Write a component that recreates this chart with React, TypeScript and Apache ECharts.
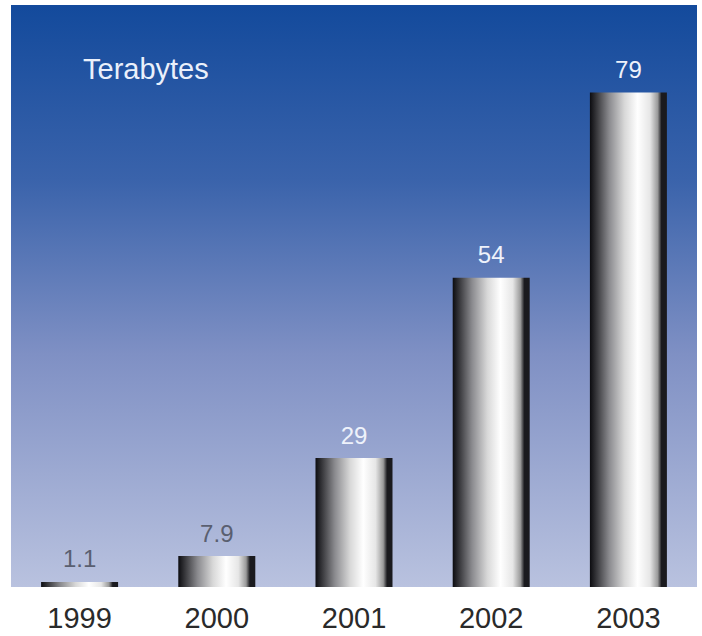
import React, { useEffect, useRef } from "react";
import * as echarts from "echarts";

// Categories (x axis)
const years = ["1999", "2000", "2001", "2002", "2003"];
// Values printed above each bar (terabytes)
const terabytes = [1.1, 7.9, 29, 54, 79];
// Bar heights as drawn in the picture (same unit, 79 = tallest bar);
// the original artwork does not draw the bars to a linear scale.
const drawnHeights = [0.8, 4.95, 20.6, 49.4, 79];
// Label colour per bar (white on the dark part of the background)
const labelColors = ["#5a5f70", "#5a5f70", "#eef2fb", "#eef2fb", "#eef2fb"];
const axisTitle = "Terabytes";

export default function App() {
  const ref = useRef<HTMLDivElement>(null);
  useEffect(() => {
    document.body.style.margin = "0";
    const chart = echarts.init(ref.current!, null, { renderer: "svg" });
    const barGradient = {
      type: "linear",
      x: 0,
      y: 0,
      x2: 1,
      y2: 0,
      colorStops: [
        { offset: 0, color: "#0c0c10" },
        { offset: 0.06, color: "#2a2a2e" },
        { offset: 0.25, color: "#8a8a8e" },
        { offset: 0.45, color: "#d8d8d8" },
        { offset: 0.62, color: "#ffffff" },
        { offset: 0.78, color: "#e6e6e6" },
        { offset: 0.88, color: "#9a9a9a" },
        { offset: 0.93, color: "#1a1a1e" },
        { offset: 1, color: "#1a1a1e" },
      ],
    };
    chart.setOption({
      animation: false,
      backgroundColor: "#ffffff",
      grid: {
        left: 11,
        right: 5,
        top: 5,
        bottom: 49,
        show: true,
        borderWidth: 0,
        backgroundColor: {
          type: "linear",
          x: 0,
          y: 0,
          x2: 0,
          y2: 1,
          colorStops: [
            { offset: 0, color: "#134a9c" },
            { offset: 0.3, color: "#3a63ab" },
            { offset: 0.6, color: "#7f90c4" },
            { offset: 1, color: "#b9c2df" },
          ],
        },
      },
      graphic: [
        {
          type: "text",
          left: 83,
          top: 54,
          style: {
            text: axisTitle,
            fill: "#eaf0fb",
            font: "29px 'Liberation Sans', Arial, sans-serif",
          },
        },
      ],
      xAxis: {
        type: "category",
        data: years,
        axisLine: { show: false },
        axisTick: { show: false },
        axisLabel: {
          color: "#2a2a2a",
          fontSize: 29,
          fontFamily: "'Liberation Sans', Arial, sans-serif",
          margin: 16,
        },
      },
      yAxis: {
        type: "value",
        min: 0,
        max: 93,
        show: false,
        splitLine: { show: false },
      },
      series: [
        {
          type: "bar",
          barWidth: 77,
          data: drawnHeights.map((h, i) => ({
            value: h,
            label: { color: labelColors[i] },
          })),
          itemStyle: { color: barGradient },
          label: {
            show: true,
            position: "top",
            distance: 11,
            fontSize: 24,
            fontFamily: "'Liberation Sans', Arial, sans-serif",
            formatter: (p: any) => String(terabytes[p.dataIndex]),
          },
        },
      ],
    });
    return () => chart.dispose();
  }, []);
  return <div ref={ref} style={{ width: 702, height: 636 }} />;
}
